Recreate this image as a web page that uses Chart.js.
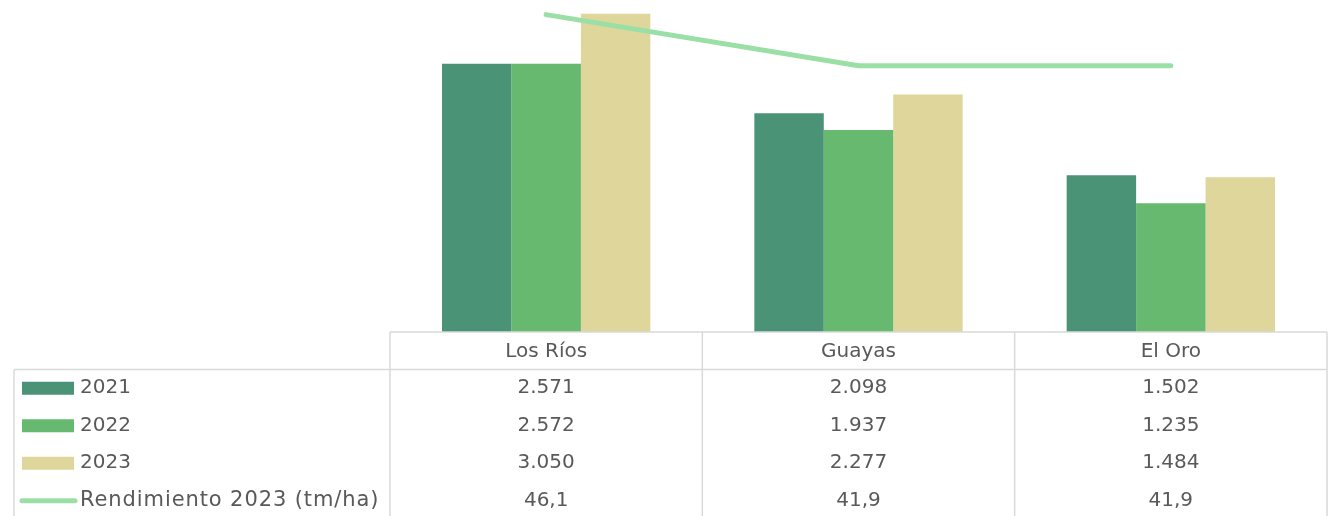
<!DOCTYPE html>
<html>
<head>
<meta charset="utf-8">
<script src="https://cdn.jsdelivr.net/npm/chart.js@4.4.1/dist/chart.umd.min.js"></script>
<style>
  html, body { margin: 0; padding: 0; background: #fff; overflow: hidden; }
  #wrap { width: 1334px; height: 516px; position: relative; }
</style>
</head>
<body>
<div id="wrap"><canvas id="myChart" width="1334" height="516"></canvas></div>
<script>
const provincias = ["Los Ríos", "Guayas", "El Oro"]
const prod2021 = [2571, 2098, 1502]
const prod2022 = [2572, 1937, 1235]
const prod2023 = [3050, 2277, 1484]
const rendimiento2023 = [46.1, 41.9, 41.9]

const FONT = '20px "DejaVu Sans"'
const TEXT = '#595959'
const GRID = '#D9D9D9'

function fmt(v, dec) {
  let s = v.toFixed(dec)
  let parts = s.split('.')
  let ent = parts[0].replace(/\B(?=(\d{3})+(?!\d))/g, '.')
  return parts.length > 1 ? ent + ',' + parts[1] : ent
}

const rows = [
  { label: "2021", color: "#4A9377", data: prod2021, dec: 0, type: 'bar' },
  { label: "2022", color: "#66B96E", data: prod2022, dec: 0, type: 'bar' },
  { label: "2023", color: "#DFD69B", data: prod2023, dec: 0, type: 'bar' },
  { label: "Rendimiento 2023 (tm/ha)", color: "#9ADFA6", data: rendimiento2023, dec: 1, type: 'line' }
]

// dibuja la tabla de datos debajo del grafico
const dataTable = {
  id: 'dataTable',
  afterDraw(chart) {
    const ctx = chart.ctx
    const area = chart.chartArea
    const x = chart.scales.x
    const n = provincias.length
    const colW = (area.right - area.left) / n
    const top = area.bottom
    const rowH = 37.5
    const tableLeft = 14
    const bottom = chart.height + 5

    ctx.save()
    ctx.strokeStyle = GRID
    ctx.lineWidth = 1.5
    ctx.beginPath()
    ctx.moveTo(area.left, top); ctx.lineTo(area.right, top)
    ctx.moveTo(tableLeft, top + rowH); ctx.lineTo(area.right, top + rowH)
    for (let i = 0; i <= n; i++) {
      const xx = area.left + i * colW
      ctx.moveTo(xx, top); ctx.lineTo(xx, bottom)
    }
    ctx.moveTo(tableLeft, top + rowH); ctx.lineTo(tableLeft, bottom)
    ctx.stroke()

    ctx.font = FONT
    ctx.fillStyle = TEXT
    ctx.textBaseline = 'middle'
    ctx.textAlign = 'center'
    provincias.forEach((p, i) => {
      ctx.fillText(p, x.getPixelForValue(i), top + rowH / 2 + 1)
    })

    rows.forEach((r, k) => {
      const cy = top + rowH * (k + 1) + rowH / 2
      if (r.type === 'bar') {
        ctx.fillStyle = r.color
        ctx.fillRect(22, cy - 6.5, 52, 13)
      } else {
        ctx.strokeStyle = r.color
        ctx.lineWidth = 5
        ctx.lineCap = 'round'
        ctx.beginPath()
        ctx.moveTo(22, cy); ctx.lineTo(75, cy)
        ctx.stroke()
      }
      ctx.fillStyle = TEXT
      ctx.textAlign = 'left'
      if (r.type === 'line') {
        ctx.font = '21px "DejaVu Sans"'
        ctx.letterSpacing = '0.9px'
      }
      ctx.fillText(r.label, 80, cy)
      ctx.font = FONT
      ctx.letterSpacing = '0px'
      ctx.textAlign = 'center'
      r.data.forEach((v, i) => {
        ctx.fillText(fmt(v, r.dec), x.getPixelForValue(i), cy)
      })
    })
    ctx.restore()
  }
}

const ctx = document.getElementById('myChart').getContext('2d')
const myChart = new Chart(ctx, {
  type: 'bar',
  data: {
    labels: provincias,
    datasets: [
      {
        type: 'line',
        label: rows[3].label,
        data: rendimiento2023,
        yAxisID: 'y1',
        borderColor: rows[3].color,
        borderWidth: 5,
        borderCapStyle: 'round',
        pointRadius: 0,
        tension: 0,
        order: 0
      },
      { label: "2021", data: prod2021, backgroundColor: rows[0].color, order: 1 },
      { label: "2022", data: prod2022, backgroundColor: rows[1].color, order: 1 },
      { label: "2023", data: prod2023, backgroundColor: rows[2].color, order: 1 }
    ]
  },
  options: {
    responsive: false,
    animation: false,
    layout: { padding: { left: 390, right: 7, top: 0, bottom: 184 } },
    datasets: { bar: { categoryPercentage: 0.667, barPercentage: 1.0 } },
    plugins: { legend: { display: false }, tooltip: { enabled: false } },
    scales: {
      x: { display: false, offset: true },
      y: { display: false, min: 0, max: 3183 },
      y1: { display: false, min: 20, max: 47.3, position: 'right' }
    }
  },
  plugins: [dataTable]
})
</script>
</body>
</html>
